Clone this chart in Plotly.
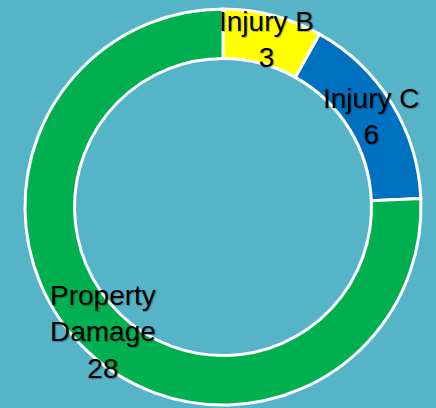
import math
import plotly.graph_objects as go

categories = ["Injury B", "Injury C", "Property Damage"]
values = [3, 6, 28]
label_text = ["Injury B<br>3", "Injury C<br>6", "Property<br>Damage<br>28"]
colors = ["#FFFF00", "#0070C0", "#00B050"]

W, H = 436, 408
cx, cy, R = 223, 207, 198  # pixel centre and outer radius
hole = 0.75

fig = go.Figure(go.Pie(
    labels=categories, values=values, sort=False, direction="clockwise",
    hole=hole, textinfo="none", hoverinfo="label+value",
    marker=dict(colors=colors, line=dict(color="white", width=3)),
    domain=dict(x=[(cx - R) / W, (cx + R) / W],
                y=[(H - cy - R) / H, (H - cy + R) / H]),
    showlegend=False,
))

total = sum(values)
cum = 0
r_mid = R * (1 + hole) / 2
for v, t in zip(values, label_text):
    ang = (cum + v / 2) / total * 2 * math.pi
    cum += v
    px = cx + r_mid * math.sin(ang)
    py = cy - r_mid * math.cos(ang)
    fig.add_annotation(x=px / W, y=1 - py / H, xref="paper", yref="paper",
                       text=t, showarrow=False, xanchor="center", yanchor="middle",
                       font=dict(family="Liberation Sans", size=28, color="black",
                                 shadow="1px 1px 1px rgba(0,0,0,0.3)"))

fig.update_layout(width=W, height=H, margin=dict(l=0, r=0, t=0, b=0),
                  paper_bgcolor="#56B4C9", plot_bgcolor="#56B4C9")
fig.write_html("out.html", config={"displayModeBar": False},
               post_script="document.body.style.margin='0';document.body.style.background='#56B4C9';")
